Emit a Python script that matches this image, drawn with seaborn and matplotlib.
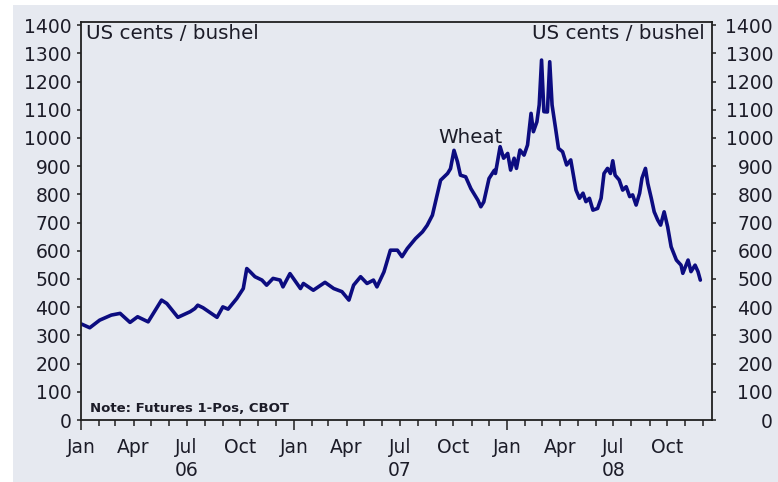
import matplotlib
matplotlib.use("Agg")
import matplotlib.pyplot as plt
import matplotlib.dates as mdates
import matplotlib.transforms as mtransforms
from matplotlib.patches import Rectangle
from matplotlib.ticker import FuncFormatter
import seaborn as sns
import pandas as pd

# ---- data ----
dates = [
    "2006-01-02", "2006-01-16", "2006-02-02", "2006-02-22", "2006-03-09", "2006-03-26",
    "2006-04-08", "2006-04-26", "2006-05-19", "2006-05-28", "2006-06-16", "2006-07-07",
    "2006-07-15", "2006-07-20", "2006-07-29", "2006-08-22", "2006-09-01", "2006-09-10",
    "2006-09-25", "2006-10-06", "2006-10-12", "2006-10-18", "2006-10-26", "2006-11-07",
    "2006-11-15", "2006-11-26", "2006-12-08", "2006-12-13", "2006-12-25",
    "2007-01-12", "2007-01-17", "2007-02-03", "2007-02-23", "2007-03-10", "2007-03-24",
    "2007-04-05", "2007-04-13", "2007-04-25", "2007-05-06", "2007-05-17", "2007-05-23",
    "2007-06-04", "2007-06-15", "2007-06-27", "2007-07-05", "2007-07-14", "2007-07-28",
    "2007-08-09", "2007-08-17", "2007-08-26", "2007-09-03", "2007-09-09", "2007-09-21",
    "2007-09-26", "2007-10-02", "2007-10-08", "2007-10-13", "2007-10-22", "2007-10-31",
    "2007-11-12", "2007-11-17", "2007-11-22", "2007-12-01", "2007-12-10", "2007-12-12",
    "2007-12-20", "2007-12-26", "2008-01-02", "2008-01-07", "2008-01-13", "2008-01-17",
    "2008-01-23", "2008-01-30", "2008-02-05", "2008-02-11", "2008-02-15", "2008-02-21",
    "2008-02-25", "2008-02-29", "2008-03-04", "2008-03-10", "2008-03-14", "2008-03-18",
    "2008-03-24", "2008-03-29", "2008-04-05", "2008-04-12", "2008-04-19", "2008-04-28",
    "2008-05-04", "2008-05-10", "2008-05-15", "2008-05-21", "2008-05-27", "2008-06-04",
    "2008-06-10", "2008-06-15", "2008-06-21", "2008-06-26", "2008-06-30", "2008-07-04",
    "2008-07-11", "2008-07-17", "2008-07-23", "2008-07-29", "2008-08-03", "2008-08-09",
    "2008-08-15", "2008-08-19", "2008-08-25", "2008-08-29", "2008-09-04", "2008-09-09",
    "2008-09-15", "2008-09-20", "2008-09-26", "2008-10-02", "2008-10-08", "2008-10-17",
    "2008-10-25", "2008-10-28", "2008-11-06", "2008-11-11", "2008-11-18", "2008-11-23",
    "2008-11-27",
]
wheat = [
    340, 327, 354, 372, 378, 346,
    366, 348, 425, 413, 364, 384,
    395, 407, 398, 364, 401, 393,
    431, 466, 537, 525, 508, 496,
    478, 502, 496, 472, 519,
    466, 484, 460, 488, 466, 455,
    425, 478, 508, 484, 496, 472,
    525, 602, 602, 579, 608, 643,
    667, 690, 726, 797, 850, 874,
    891, 956, 915, 868, 862, 820,
    779, 756, 773, 856, 885, 874,
    969, 928, 945, 886, 928, 892,
    957, 939, 975, 1087, 1022, 1057,
    1117, 1276, 1093, 1092, 1270, 1117,
    1034, 963, 951, 904, 922, 815,
    786, 804, 774, 786, 744, 750,
    786, 874, 892, 874, 919, 868,
    851, 815, 827, 792, 798, 762,
    804, 857, 892, 839, 786, 738,
    709, 691, 738, 685, 614, 567,
    549, 520, 567, 526, 549, 526,
    496,
]
month_labels = {1: "Jan", 4: "Apr", 7: "Jul", 10: "Oct"}
year_labels = ["06", "07", "08"]
y_ticks = list(range(0, 1401, 100))

# ---- style ----
sns.set_style("ticks")
plt.rcParams['font.family'] = ['DejaVu Sans']
BG = '#e6e9f0'
TXT = '#1c1c28'
LINE = '#0c0c80'
FS = 13.5

fig = plt.figure(figsize=(7.78, 4.82), dpi=100, facecolor='white')
fig.patches.append(Rectangle((13 / 778, 0), 1, 1 - 5 / 482, transform=fig.transFigure,
                             facecolor=BG, edgecolor='none', zorder=-10))
ax = fig.add_axes([81 / 778, 1 - 420 / 482, (712 - 81) / 778, (420 - 21.7) / 482])
ax.set_facecolor(BG)

df = pd.DataFrame({'date': pd.to_datetime(dates), 'wheat': wheat})
sns.lineplot(data=df, x='date', y='wheat', ax=ax, color=LINE, lw=2.6)

ax.set_xlim(mdates.date2num(pd.Timestamp('2006-01-01')), mdates.date2num(pd.Timestamp('2008-12-17')))
ax.set_ylim(0, 1412)
ax.set_xlabel('')
ax.set_ylabel('')

for s in ax.spines.values():
    s.set_visible(True)
    s.set_color('#202020')
    s.set_linewidth(1.3)

# y axis (left)
ax.set_yticks(y_ticks)
ax.tick_params(axis='y', which='major', length=3, width=1.1, color='#202020',
               labelsize=FS, labelcolor=TXT, pad=4, direction='out')
# y axis (right) via secondary axis
sec = ax.secondary_yaxis('right')
sec.set_yticks(y_ticks)
sec.spines['right'].set_visible(False)
sec.tick_params(axis='y', which='major', length=3, width=1.1, color='#202020',
                labelsize=FS, labelcolor=TXT, pad=41, direction='out')
plt.setp(sec.get_yticklabels(), ha='right')

# x axis
ax.xaxis.set_major_locator(mdates.MonthLocator(bymonth=1))
ax.xaxis.set_minor_locator(mdates.MonthLocator())
ax.xaxis.set_major_formatter(FuncFormatter(lambda v, p: month_labels[1]))
def minor_fmt(v, p):
    m = mdates.num2date(v).month
    return month_labels.get(m, '') if m != 1 else ''
ax.xaxis.set_minor_formatter(FuncFormatter(minor_fmt))
ax.tick_params(axis='x', which='major', length=7, width=1.1, color='#202020',
               labelsize=FS, labelcolor=TXT, pad=6, direction='out')
ax.tick_params(axis='x', which='minor', length=4, width=1.1, color='#202020',
               labelsize=FS, labelcolor=TXT, pad=9, direction='out')

trans = mtransforms.blended_transform_factory(ax.transData, ax.transAxes)
for i, yl in enumerate(year_labels):
    xd = mdates.date2num(pd.Timestamp(f'{2006 + i}-07-01'))
    ax.text(xd, -0.126, yl, transform=trans, ha='center', va='center',
            fontsize=FS, color=TXT)

# annotations
ax.text(0.008, 0.995, 'US cents / bushel', transform=ax.transAxes, ha='left', va='top',
        fontsize=14.3, color=TXT)
ax.text(0.989, 0.995, 'US cents / bushel', transform=ax.transAxes, ha='right', va='top',
        fontsize=14.3, color=TXT)
ax.text(mdates.date2num(pd.Timestamp('2007-09-05')), 1003, 'Wheat', ha='left', va='center',
        fontsize=14.3, color=TXT)
ax.text(0.0143, 0.030, 'Note: Futures 1-Pos, CBOT', transform=ax.transAxes, ha='left',
        va='center', fontsize=9.5, fontweight='bold', color=TXT)

fig.savefig('out.png', dpi=100, facecolor=fig.get_facecolor())
